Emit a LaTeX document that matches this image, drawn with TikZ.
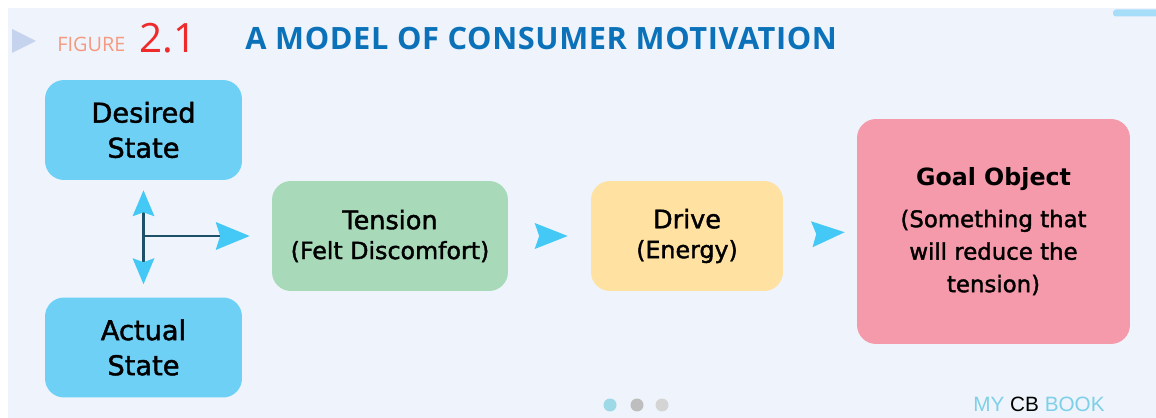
\documentclass[tikz,border=0pt]{standalone}
\usepackage{fontspec}
\setmainfont[FakeBold=1.6]{DejaVu Sans}
\newfontfamily\goalfont{DejaVu Sans}
\newfontfamily\headfont[LetterSpace=2]{Open Sans}
\newfontfamily\numfont{Open Sans}
\newfontfamily\brandfont{Liberation Sans}
\usetikzlibrary{arrows.meta,positioning}

\definecolor{pagebg}{HTML}{EFF3FB}
\definecolor{barblue}{HTML}{A6DDF8}
\definecolor{markgray}{HTML}{C5D3EE}
\definecolor{figsalmon}{HTML}{F59A80}
\definecolor{figred}{HTML}{EE2A2A}
\definecolor{titleblue}{HTML}{0B72B9}
\definecolor{stateblue}{HTML}{6FD0F6}
\definecolor{tensiongreen}{HTML}{A8D9B9}
\definecolor{driveyellow}{HTML}{FFE1A1}
\definecolor{goalpink}{HTML}{F59AAB}
\definecolor{tipcyan}{HTML}{44C8F5}
\definecolor{forkteal}{HTML}{1E5068}
\definecolor{dotone}{HTML}{9DD9E6}
\definecolor{dottwo}{HTML}{BEBEBE}
\definecolor{dotthree}{HTML}{D4D4D4}
\definecolor{brandblue}{HTML}{7DD0E8}

\tikzset{
  box/.style={rounded corners=0.38cm, align=center, inner sep=0pt},
  statebox/.style={box, fill=stateblue, minimum width=3.94cm, minimum height=2cm,
    font=\fontsize{15.5}{20}\selectfont},
  flowbox/.style={box, minimum height=2.2cm, font=\fontsize{13.5}{17}\selectfont},
  vtip/.tip={Stealth[length=0.52cm, width=0.44cm, inset=0.08cm, color=tipcyan, line width=0pt]},
  htip/.tip={Stealth[length=0.68cm, width=0.56cm, inset=0.09cm, color=tipcyan, line width=0pt]},
  flowarrow/.style={-{Stealth[length=0.66cm, width=0.52cm, inset=0.09cm, line width=0pt]},
    tipcyan, line width=0.4pt},
  forkline/.style={forkteal, line width=1.7pt}
}

\begin{document}
\begin{tikzpicture}[x=0.02cm, y=-0.02cm]
  \useasboundingbox (0,0) rectangle (1156,418);
  \fill[white] (0,0) rectangle (1156,418);
  \fill[pagebg] (8,8) rectangle (1156,418);
  \fill[barblue, rounded corners=0.06cm] (1156,9.5) -- (1113,9.5) -- (1113,16.5) -- (1156,16.5);

  % header
  \fill[markgray] (12,29) -- (36,41) -- (12,53) -- cycle;
  \node[anchor=base west, inner sep=0pt, text=figsalmon, font=\numfont\fontsize{11.3}{11}\selectfont]
    (figword) at (57,51.5) {FIGURE};
  \node[anchor=base west, inner sep=0pt, text=figred, font=\numfont\fontsize{23}{23}\selectfont]
    (fignum) at (139,52.5) {2.1};
  \node[anchor=base west, inner sep=0pt, text=titleblue, font=\headfont\bfseries\fontsize{17.5}{17.5}\selectfont]
    (title) at (245,50) {A MODEL OF CONSUMER MOTIVATION};

  % boxes
  \node[statebox] (desired) at (143.5,130) {Desired\\State};
  \node[statebox] (actual) at (143.5,347.5) {Actual\\State};
  \node[flowbox, fill=tensiongreen, minimum width=4.72cm] (tension) at (390,236)
    {{\fontsize{14.5}{17}\selectfont Tension}\\(Felt Discomfort)};
  \node[flowbox, fill=driveyellow, minimum width=3.84cm] (drive) at (687,236)
    {{\fontsize{14.5}{17}\selectfont Drive}\\(Energy)};
  \node[box, fill=goalpink, minimum width=5.46cm, minimum height=4.5cm,
    font=\fontsize{13}{18.5}\selectfont] (goal) at (993.5,231.5)
    {{\goalfont\fontsize{13.5}{18.5}\selectfont\bfseries Goal Object}\\[5pt]
     (Something that\\will reduce the\\tension)};

  % connectors
  \coordinate (fork) at (desired.south |- tension.west);
  \draw[forkline, vtip-vtip, shorten <=0.2cm, shorten >=0.26cm]
    (desired.south) -- (actual.north);
  \draw[forkline, -htip, shorten >=0.44cm] (fork) -- (tension.west);
  \draw[flowarrow, shorten <=0.63cm, shorten >=0.46cm] (tension.east) -- (drive.west);
  \draw[flowarrow, shorten <=0.67cm, shorten >=0.24cm] (drive.east) -- (goal.west);

  % footer
  \foreach \x/\c in {610/dotone,637/dottwo,662/dotthree}
    \fill[\c] (\x,405) circle (0.13cm);
  \node[anchor=base west, inner sep=0pt, font=\brandfont\fontsize{11.8}{11}\selectfont]
    (brand) at (973,412) {\textcolor{brandblue}{MY} CB \textcolor{brandblue}{BOOK}};
\end{tikzpicture}
\end{document}
